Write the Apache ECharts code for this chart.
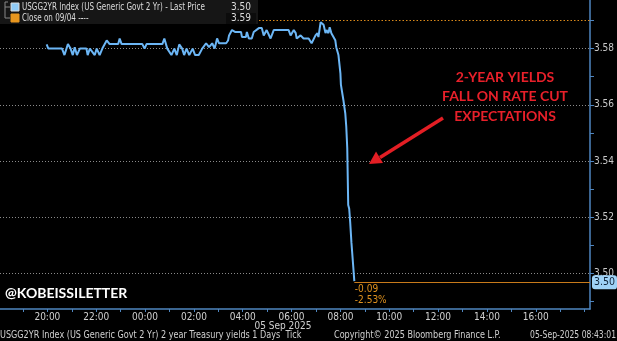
<!DOCTYPE html>
<html>
<head>
<meta charset="utf-8">
<script src="https://cdn.jsdelivr.net/npm/echarts@6/dist/echarts.min.js"></script>
<style>
html,body{margin:0;padding:0;background:#000;}
#c{width:617px;height:341px;}
</style>
</head>
<body>
<div id="c"></div>
<script>
// ---- data (hours relative to 00:00, 05 Sep 2025) ----
const times = [-4.03,-3.96,-3.40,-3.30,-3.16,-3.05,-2.96,-2.88,-2.79,-2.67,-2.40,-2.35,-2.26,-2.06,-1.98,-1.86,-1.75,-1.57,-1.45,-1.10,-1.04,-0.96,-0.11,-0.02,0.06,0.71,0.79,0.91,1.08,1.20,1.30,1.40,1.52,1.60,1.70,1.81,1.95,2.05,2.20,2.34,2.42,2.50,2.62,2.75,2.85,2.95,3.03,3.32,3.40,3.44,3.56,3.70,3.93,3.97,4.13,4.17,4.25,4.37,4.45,4.66,4.78,4.86,4.98,5.14,5.27,5.88,5.96,6.09,6.17,6.21,6.37,6.49,6.70,6.82,6.98,7.06,7.10,7.19,7.23,7.31,7.39,7.43,7.51,7.56,7.63,7.71,7.79,7.83,7.92,8.00,8.02,8.04,8.12,8.20,8.24,8.28,8.32,8.36,8.40,8.45,8.53,8.57];
const yields = [3.5815,3.5800,3.5800,3.5777,3.5816,3.5800,3.5777,3.5805,3.5777,3.5800,3.5800,3.5777,3.5800,3.5777,3.5800,3.5777,3.5800,3.5829,3.5816,3.5816,3.5836,3.5816,3.5816,3.5800,3.5816,3.5816,3.5836,3.5800,3.5777,3.5800,3.5777,3.5815,3.5800,3.5777,3.5800,3.5777,3.5800,3.5777,3.5777,3.5800,3.5805,3.5819,3.5805,3.5819,3.5800,3.5836,3.5819,3.5819,3.5829,3.5847,3.5866,3.5859,3.5859,3.5841,3.5841,3.5859,3.5836,3.5836,3.5859,3.5873,3.5873,3.5847,3.5866,3.5836,3.5866,3.5866,3.5847,3.5866,3.5855,3.5836,3.5847,3.5836,3.5836,3.5819,3.5847,3.5855,3.5841,3.5894,3.5901,3.5885,3.5855,3.5866,3.5855,3.5876,3.5855,3.5850,3.5830,3.5805,3.5777,3.5712,3.5672,3.5665,3.5618,3.5569,3.5522,3.5446,3.5243,3.5230,3.5183,3.5111,3.5019,3.4972];
const closePrev = 3.588;
const yLabelValues = [3.50, 3.52, 3.54, 3.56, 3.58];
const yTickValues = [3.49, 3.50, 3.51, 3.52, 3.53, 3.54, 3.55, 3.56, 3.57, 3.58, 3.59];
const xLabelHours = [-4, -2, 0, 2, 4, 6, 8, 10, 12, 14, 16];
const xTickHours = [-5, -4, -3, -2, -1, 0, 1, 2, 3, 4, 5, 6, 7, 8, 9, 10, 11, 12, 13, 14, 15, 16, 17, 18];
const xRange = [-5.94, 18.22];
const yRange = [3.4873, 3.5973];

const NARROW = '"Liberation Sans Narrow","DejaVu Sans Condensed","Arial Narrow",sans-serif';
const lastT = times[times.length - 1];
const lastV = yields[yields.length - 1];
const chg = lastV - closePrev;
const chgPct = chg / closePrev * 100;

const chart = echarts.init(document.getElementById('c'), null, {renderer: 'canvas'});

function hourLabel(v) {
  const h = ((Math.round(v) % 24) + 24) % 24;
  return String(h).padStart(2, '0') + ':00';
}

function txt(x, y, s, opts) {
  return Object.assign({type: 'text', x: x, y: y, z: 12,
    style: Object.assign({text: s, fill: '#d0d0d0', fontSize: 10, fontFamily: NARROW, verticalAlign: 'middle'}, opts.style || {})},
    opts.scaleX ? {scaleX: opts.scaleX} : {});
}

const option = {
  backgroundColor: '#000',
  animation: false,
  grid: {left: 0, right: 24, top: 0, bottom: 32, containLabel: false},
  xAxis: {
    type: 'value', min: xRange[0], max: xRange[1],
    axisLine: {show: true, onZero: false, lineStyle: {color: '#4f86c0', width: 1.5}},
    axisTick: {show: true, length: 3, lineStyle: {color: '#4f86c0'}, customValues: xTickHours},
    axisLabel: {color: '#d0d0d0', fontSize: 10, fontFamily: NARROW, margin: 3, customValues: xLabelHours, formatter: hourLabel},
    splitLine: {show: false}
  },
  yAxis: {
    type: 'value', position: 'right', min: yRange[0], max: yRange[1], scale: true,
    axisLine: {show: true, onZero: false, lineStyle: {color: '#4f86c0', width: 1.5}},
    axisTick: {show: true, length: 4, lineStyle: {color: '#4f86c0'}, customValues: yTickValues},
    axisLabel: {color: '#c8c8c8', fontSize: 10, fontFamily: NARROW, margin: 4, customValues: yLabelValues, formatter: v => v.toFixed(2)},
    splitLine: {show: false}
  },
  series: [{
    type: 'line',
    data: times.map((t, i) => [t, yields[i]]),
    showSymbol: false,
    symbol: 'none',
    lineStyle: {color: '#6cb6f5', width: 2},
    z: 5,
    markLine: {
      silent: true, symbol: 'none', animation: false,
      data: [
        ...yLabelValues.map(v => ({yAxis: v, lineStyle: {color: '#8a8a8a', type: [1, 2], width: 1}, label: {show: false}})),
        {yAxis: closePrev, lineStyle: {color: '#d9891a', type: [1.5, 2], width: 1.2}, label: {show: false}},
        [
          {coord: [lastT, lastV - 0.0004], lineStyle: {color: '#c87a1a', type: 'solid', width: 1.2},
           label: {show: true, position: 'end', distance: 2, formatter: lastV.toFixed(2), color: '#10243a',
                   backgroundColor: '#9fd2f7', borderRadius: 3, padding: [2, 2, 1, 2], fontSize: 10.5, fontFamily: NARROW}},
          {coord: [xRange[1], lastV - 0.0004]}
        ]
      ]
    },
    markPoint: {
      silent: true, animation: false,
      data: [{
        coord: [lastT, lastV], symbol: 'rect', symbolSize: 1, itemStyle: {color: 'rgba(0,0,0,0)'},
        label: {show: true, position: [1, 3], align: 'left', verticalAlign: 'top', lineHeight: 11,
                color: '#e0921e', fontSize: 10, fontFamily: NARROW,
                formatter: chg.toFixed(2) + '\n' + chgPct.toFixed(2) + '%'}
      }]
    }
  }],
  graphic: [
    {type: 'rect', shape: {x: 0, y: 0, width: 258, height: 24}, style: {fill: '#161616'}, z: 10},
    {type: 'polyline', shape: {points: [[8, 2], [5, 2], [5, 18], [10, 18]]}, style: {stroke: '#888', lineWidth: 1, fill: null}, z: 11},
    {type: 'polyline', shape: {points: [[5, 7], [10, 7]]}, style: {stroke: '#888', lineWidth: 1}, z: 11},
    {type: 'rect', shape: {x: 11, y: 3, width: 8, height: 8}, style: {fill: '#8fcaf5', stroke: '#dddddd', lineWidth: 1}, z: 11},
    {type: 'rect', shape: {x: 11, y: 14, width: 8, height: 8}, style: {fill: '#e8961e', stroke: '#e8961e', lineWidth: 1}, z: 11},
    {type: 'rect', shape: {x: 226, y: 13, width: 30, height: 11}, style: {fill: '#0c0c0c'}, z: 11},
    txt(22, 7, 'USGG2YR Index (US Generic Govt 2 Yr) - Last Price', {scaleX: 0.8, style: {fill: '#dcdcdc'}}),
    txt(251, 7, lastV.toFixed(2), {style: {fill: '#dcdcdc', align: 'right'}}),
    txt(22, 18, 'Close on 09/04 ----', {scaleX: 0.8, style: {fill: '#dcdcdc'}}),
    txt(251, 18, closePrev.toFixed(2), {style: {fill: '#dcdcdc', align: 'right'}}),
    // annotation
    {type: 'text', x: 505, y: 77, style: {text: '2-YEAR YIELDS', fill: '#e8202a', fontSize: 14, fontWeight: 'bold', fontFamily: 'Lato, sans-serif', align: 'center', verticalAlign: 'middle'}, z: 12},
    {type: 'text', x: 505, y: 96, style: {text: 'FALL ON RATE CUT', fill: '#e8202a', fontSize: 14, fontWeight: 'bold', fontFamily: 'Lato, sans-serif', align: 'center', verticalAlign: 'middle'}, z: 12},
    {type: 'text', x: 505, y: 116, style: {text: 'EXPECTATIONS', fill: '#e8202a', fontSize: 14, fontWeight: 'bold', fontFamily: 'Lato, sans-serif', align: 'center', verticalAlign: 'middle'}, z: 12},
    {type: 'line', shape: {x1: 443, y1: 118, x2: 380, y2: 157.5}, style: {stroke: '#e31e24', lineWidth: 3.5}, z: 12},
    {type: 'polygon', shape: {points: [[369, 164], [383, 163], [376, 151.5]]}, style: {fill: '#e31e24'}, z: 12},
    {type: 'text', x: 5, y: 293, style: {text: '@KOBEISSILETTER', fill: '#ffffff', fontSize: 14, fontWeight: 'bold', fontFamily: 'Lato, sans-serif', verticalAlign: 'middle'}, z: 12},
    // footer
    txt(283, 326, '05 Sep 2025', {style: {align: 'center'}}),
    txt(0, 335, 'USGG2YR Index (US Generic Govt 2 Yr) 2 year Treasury yields 1 Days  Tick', {scaleX: 0.9}),
    txt(334, 335, 'Copyright\u00a9 2025 Bloomberg Finance L.P.', {scaleX: 0.9}),
    txt(616, 335, '05-Sep-2025 08:43:01', {scaleX: 0.85, style: {align: 'right'}})
  ]
};
chart.setOption(option);
</script>
</body>
</html>
